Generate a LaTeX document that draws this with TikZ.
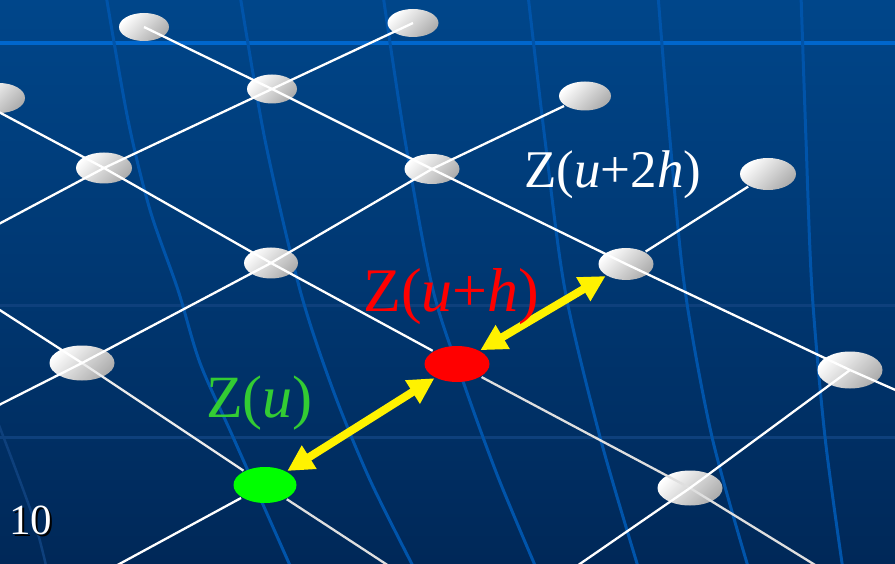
\documentclass[tikz,border=0pt]{standalone}
\usepackage{fontspec}
\setmainfont{Liberation Serif}
\usetikzlibrary{shapes.geometric,arrows.meta}
\definecolor{bgtop}{RGB}{0,70,138}
\definecolor{bgbot}{RGB}{0,40,88}
\definecolor{gridhi}{RGB}{0,102,204}
\definecolor{gridlo}{RGB}{0,84,170}
\definecolor{gridfaint}{RGB}{14,64,124}
\definecolor{zgreen}{RGB}{51,204,51}
\begin{document}
\begin{tikzpicture}[x=1pt, y=-1pt, line width=2.3pt,
  ball/.style 2 args={ellipse, inner sep=0pt, minimum width=#1, minimum height=#2,
    top color=white, bottom color=gray!65, shading angle=45},
  lattice/.style={white, line width=2.3pt},
  latticedim/.style={white!75!gray, line width=2.3pt},
  bgline/.style={gridlo, line width=3pt},
  yarrow/.style={yellow, line width=8pt,
    {Triangle[length=26pt,width=26pt]}-{Triangle[length=26pt,width=26pt]}},
  zlabel/.style={anchor=base west, inner sep=0pt}]
  \useasboundingbox (0,0) rectangle (895,564);
  \clip (0,0) rectangle (895,564);
  % 배경
  \shade[top color=bgtop, bottom color=bgbot] (0,0) rectangle (895,564);
  \draw[gridhi, line width=3.5pt] (0,43) -- (895,43);
  \draw[gridfaint, line width=3pt] (0,306) -- (895,306);
  \draw[gridfaint, line width=3pt] (0,437) -- (895,437);
  \draw[bgline] plot[smooth] coordinates {(106,-5) (128,120) (150,210) (178,290) (200,363) (233,437) (292,570)};
  \draw[bgline] plot[smooth] coordinates {(240,-5) (265,140) (300,290) (333,390) (370,480) (415,570)};
  \draw[bgline] plot[smooth] coordinates {(383,-5) (405,140) (433,290) (465,387) (498,477) (537,570)};
  \draw[bgline] plot[smooth] coordinates {(528,-5) (545,140) (565,290) (600,437) (639,570)};
  \draw[bgline] plot[smooth] coordinates {(658,-5) (670,140) (685,290) (712,437) (749,570)};
  \draw[bgline] plot[smooth] coordinates {(801,-5) (806,140) (812,290) (825,437) (843,570)};
  \draw[gridfaint, line width=2.5pt] plot[smooth] coordinates {(-3,420) (33,517) (47,570)};
  % 격자점
  \node[ball={50}{28}] (A) at (144,27) {};
  \node[ball={51}{28}] (B) at (413,23) {};
  \node[ball={50}{29}] (C) at (272,89) {};
  \node[ball={52}{30}] (D) at (-1,98) {};
  \node[ball={52}{29}] (E) at (585,96) {};
  \node[ball={56}{31}] (F) at (104,168) {};
  \node[ball={55}{30}] (G) at (432,169) {};
  \node[ball={56}{32}] (H) at (768,174) {};
  \node[ball={54}{31}] (I) at (271,263) {};
  \node[ball={55}{32}] (J) at (626,264) {};
  \node[ball={65}{35}] (K) at (82,363) {};
  \node[ball={65}{37}] (M) at (850,370) {};
  \node[ball={65}{35}] (O) at (690,488) {};
  \node[ellipse, inner sep=0pt, minimum width=65, minimum height=36, fill=red] (L) at (457,364) {};
  \node[ellipse, inner sep=0pt, minimum width=63, minimum height=36, fill=green] (N) at (265,485) {};
  % 격자선
  \coordinate (r1e) at (900,392);
  \coordinate (r2w) at (-5,110);
  \coordinate (r2e) at (820,568);
  \coordinate (r3w) at (-5,307);
  \coordinate (r3e) at (392,568);
  \coordinate (c1w) at (-5,226);
  \coordinate (c2w) at (-5,407);
  \coordinate (c3w) at (112,568);
  \coordinate (c4w) at (574,568);
  \draw[lattice] (A.center) -- (C.center) -- (G.center) -- (J.center) -- (M.center) -- (r1e);
  \draw[lattice] (r2w) -- (F.center) -- (I.center) -- (L);
  \draw[latticedim] (L) -- (O.center) -- (r2e);
  \draw[lattice] (r3w) -- (K.center);
  \draw[white!85!gray] (K.center) -- (N);
  \draw[latticedim] (N) -- (r3e);
  \draw[lattice] (c1w) -- (F.center) -- (C.center) -- (B.center);
  \draw[lattice] (c2w) -- (K.center) -- (I.center) -- (G.center) -- (E);
  \draw[lattice] (c3w) -- (N);
  \draw[lattice] (J) -- (H);
  \draw[lattice] (c4w) -- (O.center) -- (M.center);
  % 화살표
  \draw[yarrow] (N) -- (L);
  \draw[yarrow] (L) -- (J);
  % 이름
  \node[zlabel, text=zgreen, font=\fontsize{60}{66}\selectfont] (zu) at (205,417) {Z(\textit{u})};
  \node[zlabel, text=red, font=\fontsize{62}{68}\selectfont] (zuh) at (362,312) {Z(\textit{u}+\textit{h})};
  \node[zlabel, text=white, font=\fontsize{53}{58}\selectfont] (zuhh) at (523,188) {Z(\textit{u}+2\textit{h})};
  \node[zlabel, text=black, font=\fontsize{43}{48}\selectfont] (pgshadow) at (10,536) {10};
  \node[zlabel, text=white, font=\fontsize{43}{48}\selectfont] (pg) at (8,534) {10};
\end{tikzpicture}
\end{document}
